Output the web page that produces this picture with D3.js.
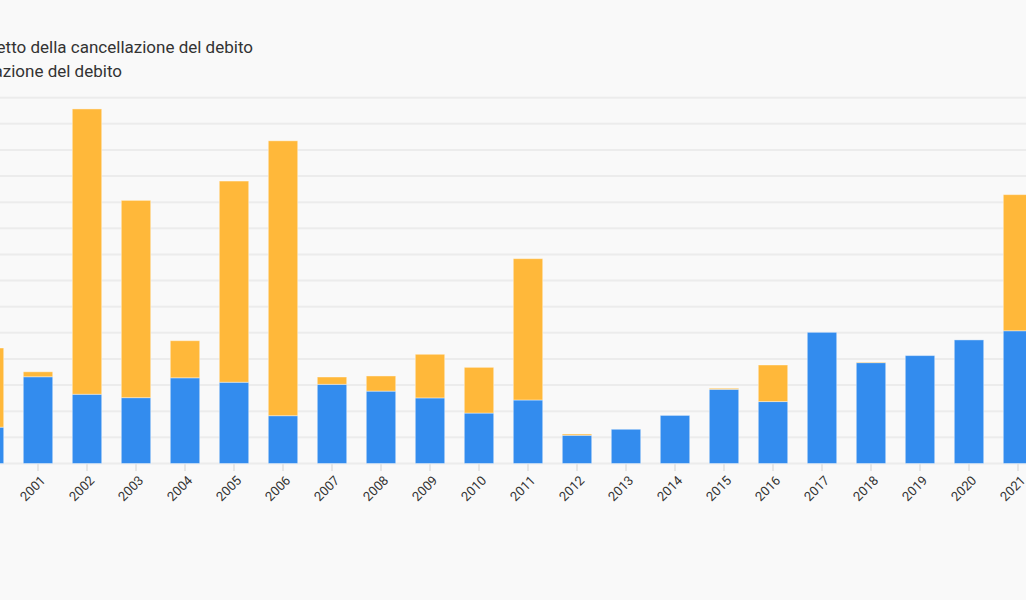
<!DOCTYPE html>
<html>
<head>
<meta charset="utf-8">
<script src="https://cdn.jsdelivr.net/npm/d3@7"></script>
<style>
  html, body { margin: 0; padding: 0; background: #f9f9f9; }
  svg { display: block; font-family: Roboto, sans-serif; }
</style>
</head>
<body>
<svg id="chart" width="1026" height="600"></svg>
<script>
// years on the x axis
const years = ['2000', '2001', '2002', '2003', '2004', '2005', '2006', '2007', '2008', '2009', '2010',
  '2011', '2012', '2013', '2014', '2015', '2016', '2017', '2018', '2019', '2020', '2021']

// APS net of debt relief (bottom, blue)
const netAid = [695, 1660, 1325, 1260, 1640, 1555, 915, 1515, 1385, 1255, 965,
  1215, 540, 655, 920, 1420, 1185, 2510, 1930, 2065, 2365, 2540]

// debt relief (top, orange)
const debtRelief = [1515, 95, 5460, 3775, 710, 3850, 5260, 140, 290, 835, 875,
  2705, 25, 0, 0, 20, 700, 0, 10, 0, 0, 2605]

const seriesNames = ['Aiuto pubblico allo sviluppo al netto della cancellazione del debito',
  'Cancellazione del debito']
const colors = ['#338cee', '#ffb83a']

const yTicks = d3.range(0, 7001, 500)

const svg = d3.select('#chart')

const x = d3.scaleBand()
  .domain(years)
  .range([-35.5, 1042.5])
  .paddingInner(0.4)
  .paddingOuter(0.2)

const y = d3.scaleLinear()
  .domain([0, 7000])
  .range([463.5, 97.7])

// grid lines
svg.append('g')
  .selectAll('line')
  .data(yTicks)
  .join('line')
  .attr('x1', -100)
  .attr('x2', 1100)
  .attr('y1', d => y(d))
  .attr('y2', d => y(d))
  .attr('stroke', '#ececec')
  .attr('stroke-width', 2)

// stacked bars
const rows = years.map((yr, i) => ({ year: yr, net: netAid[i], debt: debtRelief[i] }))
const stacked = d3.stack().keys(['net', 'debt'])(rows)

svg.append('g')
  .selectAll('g')
  .data(stacked)
  .join('g')
  .attr('fill', (d, i) => colors[i])
  .selectAll('rect')
  .data(d => d.filter(p => p[1] - p[0] > 0))
  .join('rect')
  .attr('x', d => x(d.data.year))
  .attr('width', x.bandwidth())
  .attr('y', d => y(d[1]))
  .attr('height', d => y(d[0]) - y(d[1]))
  .attr('stroke', 'rgba(255,255,255,0.4)')
  .attr('stroke-width', 1)

// x axis ticks and labels
const xAxis = svg.append('g')
  .selectAll('g')
  .data(years)
  .join('g')
  .attr('transform', d => `translate(${x(d) + x.bandwidth() / 2},0)`)

xAxis.append('line')
  .attr('y1', 464)
  .attr('y2', 471)
  .attr('stroke', '#e6e6e6')
  .attr('stroke-width', 2)

xAxis.append('text')
  .attr('transform', 'translate(5,478) rotate(-45)')
  .attr('text-anchor', 'end')
  .attr('dy', '0.35em')
  .attr('font-size', 13)
  .attr('fill', '#333')
  .text(d => d)

// legend
const legend = svg.append('g')
  .selectAll('g')
  .data(seriesNames)
  .join('g')
  .attr('transform', (d, i) => `translate(0,${47 + i * 24})`)

legend.append('text')
  .attr('x', (d, i) => i === 0 ? 253 : 122)
  .attr('text-anchor', 'end')
  .attr('dy', '0.35em')
  .attr('font-size', 17)
  .attr('fill', '#333')
  .text(d => d)
</script>
</body>
</html>
